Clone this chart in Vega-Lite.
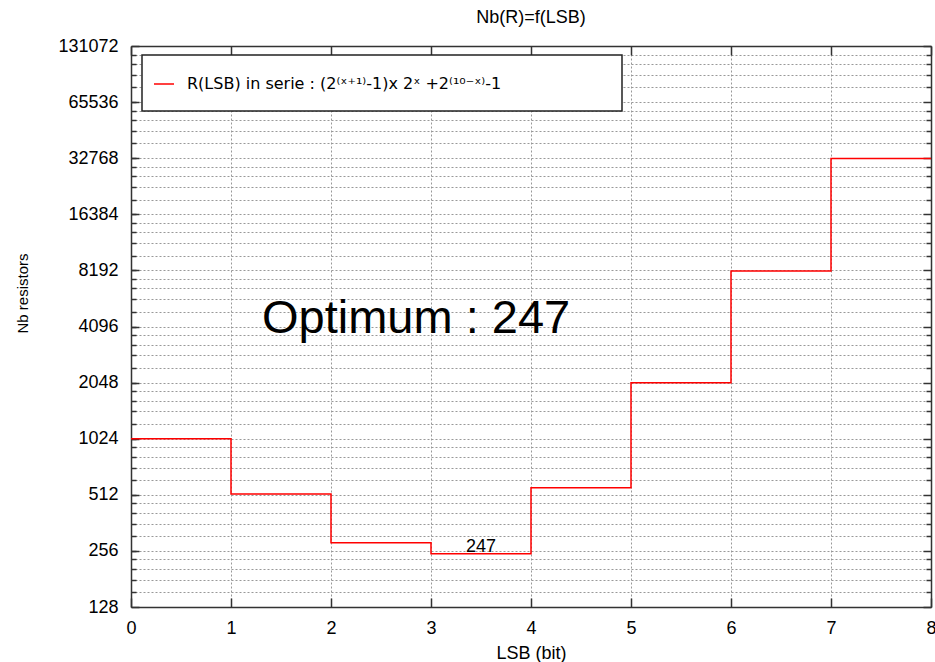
{
  "$schema": "https://vega.github.io/schema/vega-lite/v6.json",
  "width": 800,
  "height": 561,
  "autosize": {"type": "none"},
  "padding": {"left": 131, "top": 46, "right": 4, "bottom": 55},
  "background": "white",
  "title": {
    "text": "Nb(R)=f(LSB)",
    "anchor": "middle",
    "frame": "group",
    "baseline": "alphabetic",
    "offset": 21,
    "dy": 25,
    "font": "Liberation Sans",
    "fontSize": 18,
    "fontWeight": "normal",
    "color": "#000"
  },
  "datasets": {
    "steps": [
      {"lsb": 0, "n": 1024, "series": "R(LSB) in serie : (2⁽ˣ⁺¹⁾-1)x 2ˣ +2⁽¹⁰⁻ˣ⁾-1"},
      {"lsb": 1, "n": 517, "series": "R(LSB) in serie : (2⁽ˣ⁺¹⁾-1)x 2ˣ +2⁽¹⁰⁻ˣ⁾-1"},
      {"lsb": 2, "n": 283, "series": "R(LSB) in serie : (2⁽ˣ⁺¹⁾-1)x 2ˣ +2⁽¹⁰⁻ˣ⁾-1"},
      {"lsb": 3, "n": 247, "series": "R(LSB) in serie : (2⁽ˣ⁺¹⁾-1)x 2ˣ +2⁽¹⁰⁻ˣ⁾-1"},
      {"lsb": 4, "n": 559, "series": "R(LSB) in serie : (2⁽ˣ⁺¹⁾-1)x 2ˣ +2⁽¹⁰⁻ˣ⁾-1"},
      {"lsb": 5, "n": 2047, "series": "R(LSB) in serie : (2⁽ˣ⁺¹⁾-1)x 2ˣ +2⁽¹⁰⁻ˣ⁾-1"},
      {"lsb": 6, "n": 8143, "series": "R(LSB) in serie : (2⁽ˣ⁺¹⁾-1)x 2ˣ +2⁽¹⁰⁻ˣ⁾-1"},
      {"lsb": 7, "n": 32647, "series": "R(LSB) in serie : (2⁽ˣ⁺¹⁾-1)x 2ˣ +2⁽¹⁰⁻ˣ⁾-1"},
      {"lsb": 8, "n": 32647, "series": "R(LSB) in serie : (2⁽ˣ⁺¹⁾-1)x 2ˣ +2⁽¹⁰⁻ˣ⁾-1"}
    ],
    "legendbox": [
      {"x1": 0.11, "x2": 4.91, "y1": 58700, "y2": 117300}
    ],
    "minlabel": [
      {"lsb": 3.5, "n": 252, "text": "247"}
    ],
    "optimum": [
      {"lsb": 1.31, "n": 3777, "text": "Optimum : 247"}
    ]
  },
  "resolve": {"axis": {"x": "independent", "y": "independent"}},
  "layer": [
    {
      "data": {"name": "legendbox"},
      "mark": {"type": "rect", "fill": "white", "stroke": "#222", "strokeWidth": 1.5},
      "encoding": {
        "x": {
          "field": "x1", "type": "quantitative",
          "scale": {"domain": [0, 8], "nice": false, "zero": false},
          "axis": {
            "orient": "bottom", "values": [1, 2, 3, 4, 5, 6, 7],
            "grid": true, "gridColor": "#999", "gridDash": [2, 2], "gridWidth": 1,
            "labels": false, "ticks": false, "domain": false, "title": null
          }
        },
        "x2": {"field": "x2"},
        "y": {
          "field": "y1", "type": "quantitative",
          "scale": {"type": "log", "base": 2, "domain": [128, 131072], "nice": false},
          "axis": {
            "orient": "left",
            "values": [153.6, 179.2, 204.8, 230.4, 256, 307.2, 358.4, 409.6, 460.8, 512, 614.4, 716.8, 819.2, 921.6, 1024, 1228.8, 1433.6, 1638.4, 1843.2, 2048, 2457.6, 2867.2, 3276.8, 3686.4, 4096, 4915.2, 5734.4, 6553.6, 7372.8, 8192, 9830.4, 11468.8, 13107.2, 14745.6, 16384, 19660.8, 22937.6, 26214.4, 29491.2, 32768, 39321.6, 45875.2, 52428.8, 58982.4, 65536, 78643.2, 91750.4, 104857.6, 117964.8],
            "grid": true, "gridColor": "#999", "gridDash": [2, 2], "gridWidth": 1,
            "labels": false, "ticks": true, "tickSize": -5, "tickColor": "#333", "tickWidth": 1.5,
            "domain": false, "title": null
          }
        },
        "y2": {"field": "y2"}
      }
    },
    {
      "data": {"name": "steps"},
      "mark": {"type": "line", "interpolate": "step-after", "strokeWidth": 1.5},
      "encoding": {
        "x": {
          "field": "lsb", "type": "quantitative",
          "axis": {
            "orient": "bottom", "values": [0, 1, 2, 3, 4, 5, 6, 7, 8],
            "grid": false, "ticks": true, "tickSize": -9, "tickColor": "#333", "tickWidth": 1.5,
            "labelPadding": 21, "labelFont": "Liberation Sans", "labelFontSize": 18, "labelColor": "#000",
            "labelFlush": false, "labelOverlap": false,
            "domain": true, "domainColor": "#333", "domainWidth": 1.5,
            "title": "LSB (bit)", "titleFont": "Liberation Sans", "titleFontSize": 18, "titleFontWeight": "normal", "titleColor": "#000",
            "titleX": 400, "titleY": 51, "titleBaseline": "alphabetic", "titleAlign": "center"
          }
        },
        "y": {
          "field": "n", "type": "quantitative",
          "axis": {
            "orient": "left", "values": [128, 256, 512, 1024, 2048, 4096, 8192, 16384, 32768, 65536, 131072],
            "format": "d",
            "grid": false, "ticks": true, "tickSize": -8, "tickColor": "#333", "tickWidth": 1.5,
            "labelPadding": 21, "labelFont": "Liberation Sans", "labelFontSize": 18, "labelColor": "#000",
            "labelFlush": false, "labelOverlap": false,
            "domain": true, "domainColor": "#333", "domainWidth": 1.5,
            "title": "Nb resistors", "titleFont": "Liberation Sans", "titleFontSize": 15, "titleFontWeight": "normal", "titleColor": "#000",
            "titleX": -109, "titleY": 247, "titleAngle": 270, "titleAlign": "center", "titleBaseline": "middle"
          }
        },
        "color": {
          "field": "series", "type": "nominal",
          "scale": {"range": ["#ff0000"]},
          "legend": {
            "orient": "none", "legendX": 22, "legendY": 27,
            "title": null, "padding": 0,
            "symbolType": "stroke", "symbolSize": 400, "symbolStrokeWidth": 1.5,
            "labelFont": "DejaVu Sans", "labelFontSize": 16, "labelColor": "#000", "labelOffset": 12,
            "labelLimit": 600
          }
        }
      }
    },
    {
      "data": {"name": "minlabel"},
      "mark": {"type": "text", "font": "Liberation Sans", "fontSize": 18, "color": "#000", "align": "center", "baseline": "alphabetic"},
      "encoding": {
        "x": {
          "field": "lsb", "type": "quantitative",
          "axis": {
            "orient": "top", "values": [0, 1, 2, 3, 4, 5, 6, 7, 8],
            "grid": false, "labels": false, "ticks": true, "tickSize": -9, "tickColor": "#333", "tickWidth": 1.5,
            "domain": true, "domainColor": "#333", "domainWidth": 1.5, "title": null
          }
        },
        "y": {
          "field": "n", "type": "quantitative",
          "axis": {
            "orient": "right", "values": [128, 256, 512, 1024, 2048, 4096, 8192, 16384, 32768, 65536, 131072],
            "grid": false, "labels": false, "ticks": true, "tickSize": -8, "tickColor": "#333", "tickWidth": 1.5,
            "domain": true, "domainColor": "#333", "domainWidth": 1.5, "title": null
          }
        },
        "text": {"field": "text"}
      }
    },
    {
      "data": {"name": "optimum"},
      "mark": {"type": "text", "font": "Liberation Sans", "fontSize": 47, "color": "#000", "align": "left", "baseline": "alphabetic"},
      "encoding": {
        "x": {"field": "lsb", "type": "quantitative", "axis": null},
        "y": {
          "field": "n", "type": "quantitative",
          "axis": {
            "orient": "right",
            "values": [153.6, 179.2, 204.8, 230.4, 307.2, 358.4, 409.6, 460.8, 614.4, 716.8, 819.2, 921.6, 1228.8, 1433.6, 1638.4, 1843.2, 2457.6, 2867.2, 3276.8, 3686.4, 4915.2, 5734.4, 6553.6, 7372.8, 9830.4, 11468.8, 13107.2, 14745.6, 19660.8, 22937.6, 26214.4, 29491.2, 39321.6, 45875.2, 52428.8, 58982.4, 78643.2, 91750.4, 104857.6, 117964.8],
            "grid": false, "labels": false, "ticks": true, "tickSize": -5, "tickColor": "#333", "tickWidth": 1.5,
            "domain": false, "title": null
          }
        },
        "text": {"field": "text"}
      }
    }
  ],
  "config": {
    "view": {"stroke": null},
    "font": "Liberation Sans"
  }
}
